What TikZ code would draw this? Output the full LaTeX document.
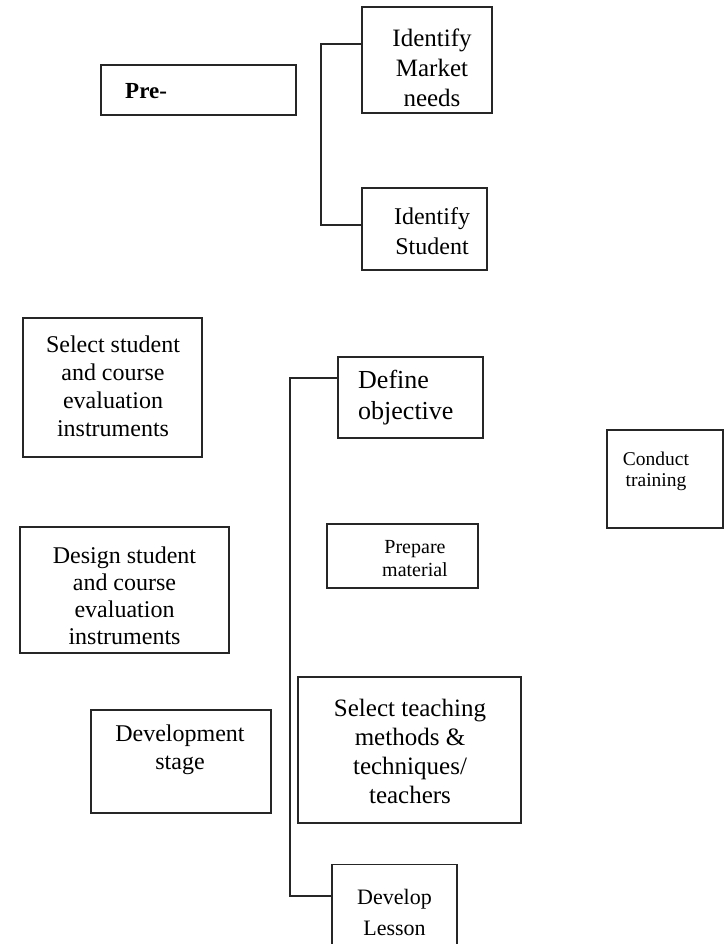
\documentclass[tikz,border=0pt]{standalone}
\usepackage{fontspec}
\setmainfont{Liberation Serif}
\newcommand\txtsize[2]{\fontsize{#1}{#2}\selectfont}
\begin{document}
\begin{tikzpicture}[x=1pt,y=-1pt,
    box/.style={draw=black!85,line width=1.1pt,rectangle,inner sep=0pt},
    txt/.style={inner sep=0pt,align=center},
    link/.style={draw=black!85,line width=1.1pt}]
  \useasboundingbox (0,0) rectangle (723,944);
  \node[box,minimum width=195,minimum height=50] (pre) at (198.5,90) {};
  \node[txt,anchor=west,font=\bfseries\txtsize{23}{27}] (pre-t) at (125,91) {Pre-};
  \node[box,minimum width=130,minimum height=106] (mkt) at (427,60) {};
  \node[txt,font=\txtsize{25}{30}] (mkt-t) at (432,67.5) {Identify\\Market\\needs};
  \node[box,minimum width=125,minimum height=82] (stu) at (424.5,229) {};
  \node[txt,font=\txtsize{24}{30}] (stu-t) at (432,231) {Identify\\Student};
  \node[box,minimum width=179,minimum height=139] (sel) at (112.5,387.5) {};
  \node[txt,font=\txtsize{24}{28}] (sel-t) at (113,386) {Select student\\and course\\evaluation\\instruments};
  \node[box,minimum width=209,minimum height=126] (dsg) at (124.5,590) {};
  \node[txt,font=\txtsize{24}{27}] (dsg-t) at (124.5,596) {Design student\\and course\\evaluation\\instruments};
  \node[box,minimum width=145,minimum height=81] (obj) at (410.5,397.5) {};
  \node[txt,align=left,anchor=west,font=\txtsize{26}{31}] (obj-t) at (358,397.5) {Define\\objective};
  \node[box,minimum width=151,minimum height=64] (mat) at (402.5,556) {};
  \node[txt,font=\txtsize{20}{23}] (mat-t) at (415,559) {Prepare\\material};
  \node[box,minimum width=116,minimum height=98] (trn) at (665,479) {};
  \node[txt,font=\txtsize{19.5}{21}] (trn-t) at (656,471) {Conduct\\training};
  \node[box,minimum width=180,minimum height=103] (dev) at (181,761.5) {};
  \node[txt,font=\txtsize{24}{28}] (dev-t) at (180,750) {Development\\stage};
  \node[box,minimum width=223,minimum height=146] (tch) at (409.5,750) {};
  \node[txt,font=\txtsize{25}{29}] (tch-t) at (410,751) {Select teaching\\methods \&\\techniques/\\teachers};
  \node[box,minimum width=125,minimum height=90,anchor=north] (les) at (394.5,864) {};
  \node[txt,font=\txtsize{22}{31}] (les-t) at (394.5,912) {Develop\\Lesson};
  \draw[link] (mkt.west |- 0,44) -| (321,225) -- (stu.west |- 0,225);
  \draw[link] (obj.west |- 0,378) -| (290,896) -- (les.west |- 0,896);
\end{tikzpicture}
\end{document}
